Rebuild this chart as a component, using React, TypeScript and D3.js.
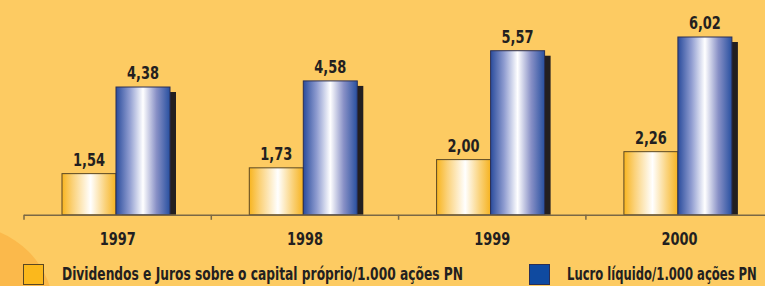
import React from "react";
import * as d3 from "d3";

const years = ["1997", "1998", "1999", "2000"];
const dividendos = [1.54, 1.73, 2.0, 2.26];
const lucro = [4.38, 4.58, 5.57, 6.02];
const valueLabelsDiv = ["1,54", "1,73", "2,00", "2,26"];
const valueLabelsLucro = ["4,38", "4,58", "5,57", "6,02"];
const legendLabels = [
  "Dividendos e Juros sobre o capital próprio/1.000 ações PN",
  "Lucro líquido/1.000 ações PN",
];

const W = 765;
const H = 286;
const FONT = "'DejaVu Sans Condensed', 'Liberation Sans Narrow', Arial, sans-serif";

export default function App() {
  const x = d3.scaleBand().domain(years).range([24, 24 + 187.3 * 4]).paddingInner(0).paddingOuter(0);
  const inner = d3.scaleBand().domain(["d", "l"]).range([38, 146]).paddingInner(0).paddingOuter(0);
  const y = d3.scaleLinear().domain([0, 6.02]).range([220.6, 37]);
  const axisY = 214.8;
  const bw = inner.bandwidth();

  return (
    <svg width={W} height={H} style={{ position: "absolute", left: 0, top: 0 }} xmlns="http://www.w3.org/2000/svg">
      <defs>
        <linearGradient id="gy" x1="0" x2="1" y1="0" y2="0">
          <stop offset="0" stopColor="#F8B520" />
          <stop offset="0.2" stopColor="#FBD27A" />
          <stop offset="0.53" stopColor="#FFFFFF" />
          <stop offset="0.8" stopColor="#FAD27A" />
          <stop offset="1" stopColor="#F6B321" />
        </linearGradient>
        <linearGradient id="gb" x1="0" x2="1" y1="0" y2="0">
          <stop offset="0" stopColor="#2A4C9C" />
          <stop offset="0.25" stopColor="#8F9CD0" />
          <stop offset="0.5" stopColor="#FFFFFF" />
          <stop offset="0.75" stopColor="#8890C6" />
          <stop offset="1" stopColor="#2850A0" />
        </linearGradient>
      </defs>
      <rect x={0} y={0} width={W} height={H} fill="#FDCB62" />
      <circle cx={-33} cy={313} r={87} fill="#FBB94B" />

      {years.map((yr, i) => {
        const x0 = x(yr)!;
        const xd = x0 + inner("d")!;
        const xl = x0 + inner("l")!;
        const yd = y(dividendos[i]);
        const yl = y(lucro[i]);
        return (
          <g key={yr}>
            <rect x={xl + 6} y={yl + 5} width={bw} height={axisY - yl - 5} fill="#231F20" />
            <rect x={xd} y={yd} width={bw} height={axisY - yd} fill="url(#gy)" stroke="#5A4722" strokeWidth={1} />
            <rect x={xl} y={yl} width={bw} height={axisY - yl} fill="url(#gb)" stroke="#2A2F55" strokeWidth={1} />
            <text x={xd + bw / 2} y={yd - 8} textAnchor="middle" fontFamily={FONT} fontWeight="bold" fontSize={18} fill="#231F20" textLength={32} lengthAdjust="spacingAndGlyphs">
              {valueLabelsDiv[i]}
            </text>
            <text x={xl + bw / 2} y={yl - 8} textAnchor="middle" fontFamily={FONT} fontWeight="bold" fontSize={18} fill="#231F20" textLength={32} lengthAdjust="spacingAndGlyphs">
              {valueLabelsLucro[i]}
            </text>
            <text x={x0 + x.bandwidth() / 2} y={245} textAnchor="middle" fontFamily={FONT} fontWeight="bold" fontSize={18} fill="#231F20" textLength={36} lengthAdjust="spacingAndGlyphs">
              {yr}
            </text>
          </g>
        );
      })}

      <line x1={x.range()[0]} x2={W} y1={axisY + 0.5} y2={axisY + 0.5} stroke="#7A6845" strokeWidth={1.5} />
      {years.map((yr) => (
        <line key={"t" + yr} x1={x(yr)!} x2={x(yr)!} y1={axisY} y2={axisY + 5} stroke="#7A6845" strokeWidth={1.5} />
      ))}

      <rect x={23.5} y={264.5} width={20} height={20} fill="#FBB81C" stroke="#5A4722" strokeWidth={1} />
      <text x={62} y={280} fontFamily={FONT} fontWeight="bold" fontSize={17} fill="#231F20" textLength={401} lengthAdjust="spacingAndGlyphs">
        {legendLabels[0]}
      </text>
      <rect x={529.5} y={264.5} width={20} height={20} fill="#0F4AA0" stroke="#2A2F55" strokeWidth={1} />
      <g transform="translate(567,280) scale(0.76,1)">
        <text x={0} y={0} fontFamily={FONT} fontWeight="bold" fontSize={17} fill="#231F20">
          {legendLabels[1]}
        </text>
      </g>
    </svg>
  );
}
